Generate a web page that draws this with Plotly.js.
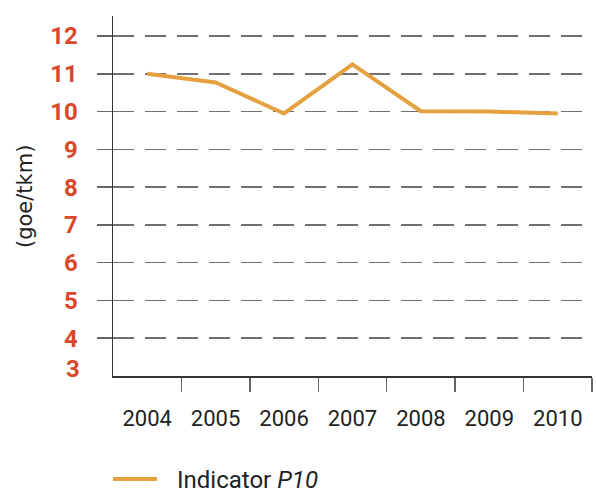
<!DOCTYPE html>
<html>
<head>
<meta charset="utf-8">
<script src="https://cdn.plot.ly/plotly-3.0.1.min.js"></script>
<style>html,body{margin:0;padding:0;background:#fff;}</style>
</head>
<body>
<div id="chart" style="width:596px;height:488px;"></div>
<script>
const years = ["2004", "2005", "2006", "2007", "2008", "2009", "2010"];
const indicatorP10 = [11.0, 10.77, 9.95, 11.25, 10.01, 10.0, 9.95];
const yTicks = [4, 5, 6, 7, 8, 9, 10, 11, 12];
const yAxisLabel = "(goe/tkm)";
const legendLabel = "Indicator <i>P10</i>";

const orange = "#e5a13f";
const red = "#d9482c";
const dark = "#222222";

const trace = {
  x: years,
  y: indicatorP10,
  type: "scatter",
  mode: "lines",
  line: {color: orange, width: 4},
  showlegend: false,
  hoverinfo: "skip"
};

const W = 596, H = 488;
const mL = 113, mR = 4, mT = 16, mB = 112;
const pw = W - mL - mR, ph = H - mT - mB;
const px = v => (v - mL) / pw;
const py = v => (H - mB - v) / ph;

const yFont = {family: "Roboto, sans-serif", size: 24, color: red, weight: "bold"};

const layout = {
  width: W, height: H,
  margin: {l: mL, r: mR, t: mT, b: mB, pad: 0},
  paper_bgcolor: "#fff",
  plot_bgcolor: "#fff",
  showlegend: false,
  xaxis: {
    type: "category",
    categoryorder: "array",
    categoryarray: years,
    range: [-0.499, 6.5],
    tickson: "boundaries",
    ticks: "outside",
    ticklen: 14,
    tickwidth: 1.5,
    tickcolor: "#666",
    showline: true,
    linecolor: "#333",
    linewidth: 1.5,
    showgrid: false,
    zeroline: false,
    ticklabelstandoff: 22,
    tickfont: {family: "Roboto, sans-serif", size: 22, color: dark}
  },
  yaxis: {
    range: [3, 12.53],
    tickvals: yTicks,
    ticktext: yTicks.map(String),
    ticks: "outside",
    ticklen: 15,
    tickwidth: 1.5,
    tickcolor: "#666",
    showline: true,
    linecolor: "#333",
    linewidth: 1.5,
    showgrid: true,
    gridcolor: "#707070",
    gridwidth: 1.5,
    griddash: "21px,11px",
    zeroline: false,
    ticklabelstandoff: 14,
    tickfont: yFont
  },
  shapes: [
    {type: "line", xref: "paper", yref: "paper",
     x0: px(113), x1: px(157), y0: py(479), y1: py(479),
     line: {color: orange, width: 4}}
  ],
  annotations: [
    {text: yAxisLabel, xref: "paper", yref: "paper", x: px(25), y: py(197),
     textangle: -90, showarrow: false, xanchor: "center", yanchor: "middle",
     font: {family: "DejaVu Sans, sans-serif", size: 21, color: dark}},
    {text: "3", xref: "paper", yref: "paper", x: px(82), y: py(369),
     showarrow: false, xanchor: "right", yanchor: "middle", font: yFont},
    {text: "1", xref: "paper", yref: "paper", x: px(68), y: py(-8),
     showarrow: false, xanchor: "right", yanchor: "middle", font: yFont},
    {text: legendLabel, xref: "paper", yref: "paper", x: px(175), y: py(480),
     showarrow: false, xanchor: "left", yanchor: "middle",
     font: {family: "Roboto, sans-serif", size: 24, color: dark}}
  ]
};

Plotly.newPlot("chart", [trace], layout, {displayModeBar: false, staticPlot: true});
</script>
</body>
</html>
